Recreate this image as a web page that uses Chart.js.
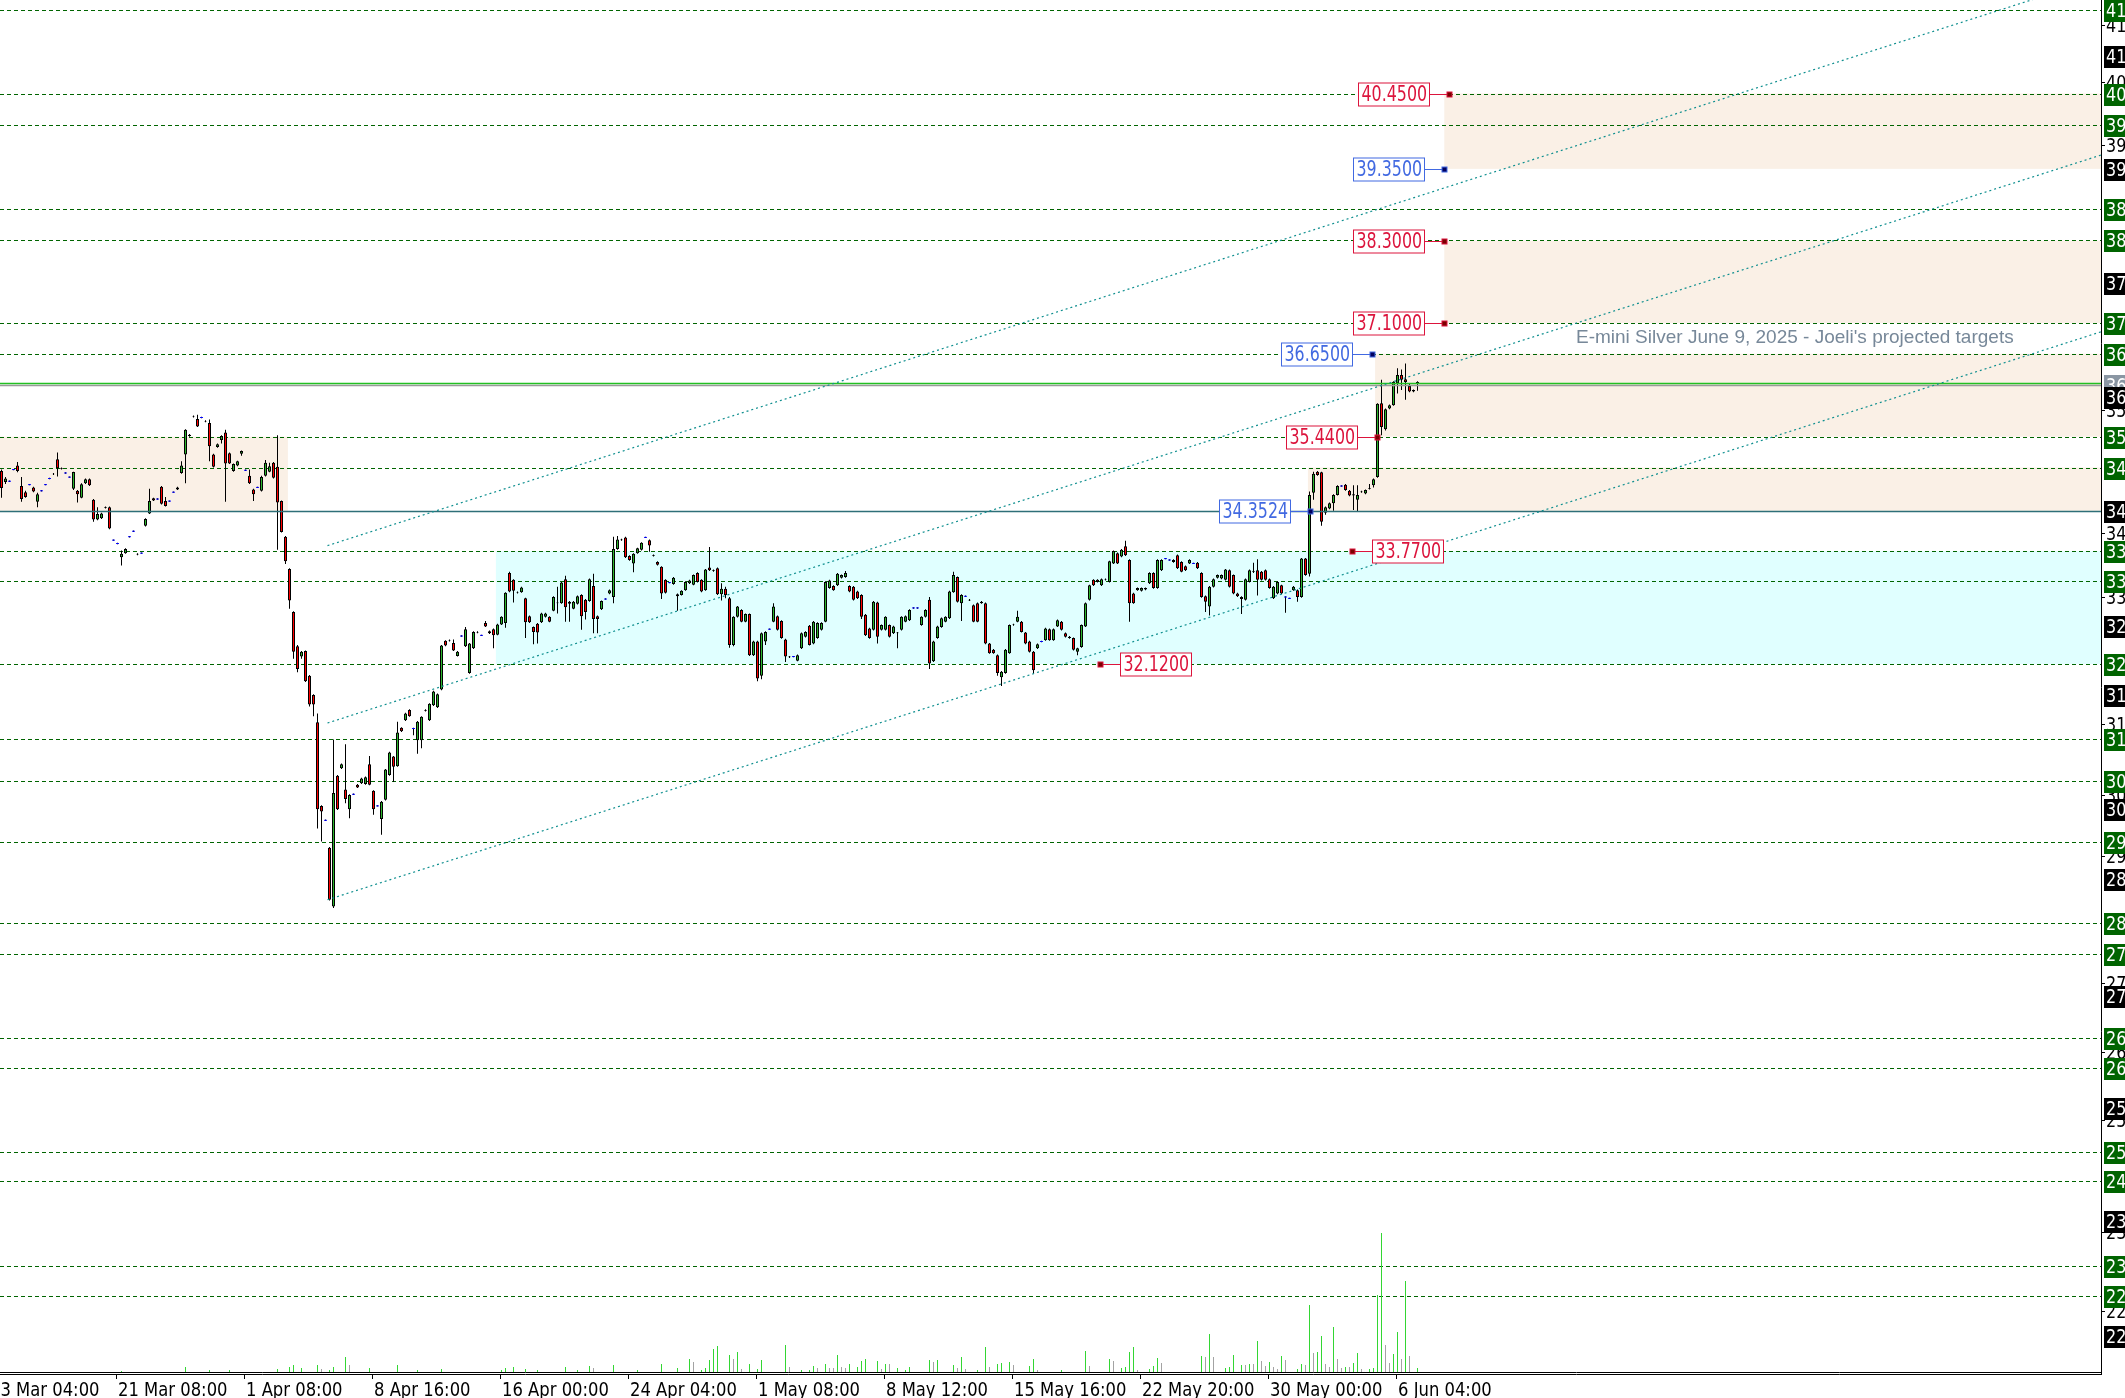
<!DOCTYPE html>
<html>
<head>
<meta charset="utf-8">
<script src="https://cdn.jsdelivr.net/npm/chart.js@4.4.1/dist/chart.umd.min.js"></script>
<style>
  html, body { margin: 0; padding: 0; background: #fff; overflow: hidden; }
  #wrap { width: 2125px; height: 1398px; position: relative; }
</style>
</head>
<body>
<div id="wrap"><canvas id="chart" width="2125" height="1398"></canvas></div>
<script>
// E-mini Silver H4 chart with projected targets, drawn on top of Chart.js floating bars

// candles, one per bar: [open, high, low, close]
const OHLC = [
  [34.94,34.96,34.55,34.69],[34.78,34.85,34.75,34.83],[34.79,34.80,34.78,34.79],[34.96,34.97,34.95,34.96],
  [35.02,35.07,34.92,34.94],[34.72,34.85,34.49,34.53],[34.63,34.65,34.55,34.56],[34.74,34.75,34.73,34.74],
  [34.70,34.71,34.63,34.64],[34.49,34.62,34.41,34.60],[34.65,34.66,34.64,34.65],[34.74,34.75,34.73,34.74],
  [34.83,34.84,34.82,34.83],[34.90,34.91,34.88,34.89],[35.11,35.21,34.86,34.98],[34.98,34.99,34.96,34.97],
  [34.91,34.92,34.90,34.91],[34.85,34.86,34.84,34.85],[34.68,34.93,34.66,34.925],[34.65,34.66,34.48,34.60],
  [34.55,34.76,34.54,34.745],[34.76,34.83,34.75,34.82],[34.82,34.83,34.72,34.73],[34.52,34.53,34.20,34.23],
  [34.23,34.41,34.22,34.31],[34.25,34.33,34.24,34.32],[34.41,34.42,34.39,34.40],[34.41,34.42,34.09,34.10],
  [33.93,33.94,33.92,33.93],[33.88,33.89,33.87,33.88],[33.68,33.78,33.56,33.73],[33.74,33.81,33.73,33.80],
  [33.98,33.99,33.97,33.98],[34.06,34.07,34.05,34.06],[33.73,33.74,33.71,33.72],[33.74,33.75,33.73,33.74],
  [34.14,34.25,34.13,34.24],[34.32,34.68,34.31,34.50],[34.54,34.55,34.50,34.51],[34.53,34.54,34.52,34.53],
  [34.71,34.72,34.45,34.46],[34.50,34.56,34.42,34.43],[34.50,34.51,34.49,34.50],[34.63,34.64,34.62,34.63],
  [34.70,34.71,34.66,34.67],[34.91,35.08,34.90,35.02],[35.18,35.55,34.76,35.54],[35.47,35.48,35.44,35.45],
  [35.74,35.75,35.72,35.73],[35.70,35.76,35.58,35.59],[35.72,35.73,35.71,35.72],[35.67,35.68,35.65,35.66],
  [35.64,35.69,35.08,35.30],[35.18,35.19,34.99,35.00],[35.29,35.34,35.28,35.33],[35.39,35.46,35.34,35.45],
  [35.50,35.54,34.49,35.05],[35.20,35.21,35.04,35.05],[34.94,35.05,34.93,35.04],[35.02,35.09,35.01,35.08],
  [35.19,35.24,35.16,35.23],[34.95,34.96,34.94,34.95],[34.87,34.96,34.75,34.76],[34.67,34.68,34.50,34.60],
  [34.70,34.71,34.69,34.70],[34.65,34.87,34.64,34.85],[34.87,35.10,34.86,35.06],[34.93,35.06,34.92,35.01],
  [35.06,35.07,34.83,34.84],[35.00,35.46,33.79,34.48],[34.50,34.51,34.04,34.05],[33.98,33.99,33.58,33.62],
  [33.51,33.52,32.93,33.05],[32.88,32.89,32.20,32.30],[32.38,32.40,32.00,32.05],[32.23,32.31,32.20,32.30],
  [32.31,32.32,31.86,31.87],[31.95,31.96,31.50,31.53],[31.67,31.68,31.36,31.53],[31.27,31.40,29.72,30.00],
  [30.05,30.06,29.53,29.97],[29.84,29.85,29.83,29.84],[29.44,29.45,28.67,28.68],[28.58,31.02,28.56,30.24],
  [30.49,30.50,29.99,30.00],[30.60,30.67,30.59,30.66],[30.29,30.95,30.09,30.15],[30.00,30.22,29.87,30.21],
  [30.22,30.23,30.21,30.22],[30.36,30.37,30.31,30.32],[30.38,30.46,30.37,30.45],[30.37,30.48,30.36,30.47],
  [30.66,30.78,30.35,30.36],[30.27,30.28,29.92,30.00],[30.05,30.06,30.04,30.05],[29.86,30.12,29.63,30.11],
  [30.14,30.59,30.13,30.58],[30.50,30.84,30.49,30.83],[30.77,30.78,30.40,30.62],[30.63,31.28,30.62,31.12],
  [31.19,31.20,31.13,31.14],[31.30,31.41,31.29,31.40],[31.45,31.46,31.35,31.36],[31.18,31.19,31.08,31.18],
  [31.01,31.29,30.81,31.28],[31.01,31.36,30.89,31.35],[31.45,31.46,31.43,31.44],[31.30,31.55,31.29,31.54],
  [31.52,31.73,31.51,31.72],[31.49,31.69,31.48,31.68],[31.75,32.40,31.74,32.39],[32.46,32.47,32.38,32.39],
  [32.47,32.48,32.45,32.46],[32.43,32.48,32.31,32.32],[32.24,32.31,32.23,32.30],[32.53,32.54,32.52,32.53],
  [32.38,32.66,32.37,32.63],[31.99,32.43,31.98,32.42],[32.35,32.60,32.34,32.59],[32.59,32.60,32.57,32.58],
  [32.54,32.55,32.53,32.54],[32.72,32.75,32.66,32.67],[32.57,32.61,32.56,32.60],[32.63,32.64,32.35,32.54],
  [32.55,32.71,32.54,32.70],[32.70,32.82,32.69,32.81],[32.72,33.17,32.65,33.16],[33.45,33.47,33.17,33.18],
  [33.35,33.36,33.02,33.19],[33.17,33.18,33.15,33.16],[33.17,33.25,33.16,33.24],[33.08,33.09,32.50,32.73],
  [32.82,32.83,32.72,32.73],[32.66,32.67,32.41,32.59],[32.71,32.72,32.42,32.58],[32.73,32.87,32.72,32.86],
  [32.81,32.87,32.80,32.86],[32.81,32.82,32.73,32.74],[32.90,33.11,32.89,33.10],[33.02,33.25,32.86,33.01],
  [33.01,33.32,33.00,33.31],[33.36,33.41,32.74,32.95],[33.03,33.04,32.74,33.00],[32.93,33.04,32.92,33.03],
  [33.00,33.12,32.99,33.11],[33.13,33.14,32.62,32.82],[33.06,33.07,32.77,32.88],[33.04,33.37,33.03,33.36],
  [33.26,33.44,32.57,32.78],[32.82,32.83,32.57,32.78],[32.92,33.05,32.91,33.04],[33.07,33.08,33.06,33.07],
  [33.15,33.21,33.14,33.20],[33.10,33.98,33.01,33.80],[33.80,33.99,33.79,33.94],[33.94,33.95,33.92,33.93],
  [33.97,33.98,33.67,33.68],[33.70,33.71,33.63,33.64],[33.59,33.74,33.46,33.73],[33.74,33.82,33.73,33.81],
  [33.79,33.90,33.78,33.89],[33.97,33.98,33.96,33.97],[33.93,33.94,33.76,33.85],[33.71,33.72,33.69,33.70],
  [33.61,33.62,33.56,33.57],[33.54,33.55,33.07,33.15],[33.35,33.36,33.15,33.16],[33.31,33.32,33.30,33.31],
  [33.29,33.39,33.28,33.38],[33.14,33.15,32.90,33.11],[33.13,33.20,33.12,33.19],[33.20,33.33,33.19,33.32],
  [33.30,33.35,33.29,33.34],[33.28,33.43,33.27,33.42],[33.45,33.46,33.31,33.32],[33.35,33.36,33.17,33.18],
  [33.20,33.51,33.19,33.50],[33.53,33.83,33.48,33.49],[33.49,33.50,33.47,33.48],[33.52,33.53,33.13,33.14],
  [33.14,33.30,33.05,33.22],[33.22,33.25,33.08,33.13],[33.08,33.10,32.36,32.40],[32.40,32.82,32.38,32.81],
  [32.81,32.97,32.80,32.96],[32.91,32.92,32.73,32.74],[32.74,32.86,32.73,32.85],[32.85,32.86,32.24,32.25],
  [32.25,32.46,32.24,32.45],[32.45,32.46,31.87,31.91],[31.95,32.58,31.90,32.57],[32.45,32.60,32.40,32.59],
  [32.63,32.64,32.62,32.63],[32.74,33.01,32.73,32.96],[32.82,32.83,32.61,32.62],[32.75,32.76,32.49,32.50],
  [32.48,32.49,32.15,32.23],[32.23,32.24,32.21,32.22],[32.23,32.24,32.22,32.23],[32.17,32.26,32.16,32.25],
  [32.35,32.58,32.34,32.57],[32.52,32.60,32.51,32.59],[32.68,32.69,32.39,32.40],[32.42,32.75,32.41,32.74],
  [32.50,32.73,32.49,32.72],[32.62,32.73,32.61,32.72],[32.74,33.33,32.73,33.32],[33.23,33.35,33.22,33.34],
  [33.26,33.27,33.19,33.20],[33.27,33.45,33.26,33.44],[33.38,33.43,33.37,33.42],[33.39,33.48,33.38,33.45],
  [33.26,33.27,33.17,33.18],[33.25,33.26,33.05,33.06],[33.18,33.19,33.07,33.08],[33.13,33.14,32.78,32.81],
  [32.84,32.85,32.53,32.54],[32.64,32.65,32.49,32.50],[32.62,33.04,32.61,33.03],[33.02,33.03,32.42,32.52],
  [32.62,32.70,32.61,32.69],[32.62,32.82,32.61,32.81],[32.69,32.70,32.51,32.52],[32.57,32.68,32.56,32.67],
  [32.58,32.59,32.35,32.57],[32.62,32.82,32.61,32.81],[32.74,32.83,32.73,32.82],[32.76,32.92,32.75,32.91],
  [32.94,32.95,32.93,32.94],[32.94,32.95,32.93,32.94],[32.69,32.82,32.68,32.81],[32.81,32.92,32.80,32.91],
  [33.06,33.10,32.05,32.13],[32.16,32.46,32.15,32.45],[32.50,32.68,32.49,32.67],[32.66,32.80,32.65,32.79],
  [32.74,32.82,32.73,32.81],[32.79,33.19,32.78,33.18],[33.17,33.47,33.16,33.42],[33.39,33.40,33.02,33.03],
  [33.01,33.14,32.75,33.13],[33.11,33.12,33.10,33.11],[33.06,33.07,33.04,33.05],[32.98,32.99,32.73,32.74],
  [33.01,33.02,32.73,32.74],[33.01,33.04,33.00,33.03],[33.01,33.02,32.41,32.42],[32.42,32.43,32.27,32.28],
  [32.33,32.34,32.27,32.28],[32.25,32.26,31.95,31.99],[31.93,32.02,31.80,32.01],[31.99,32.34,31.98,32.33],
  [32.28,32.70,32.27,32.69],[32.70,32.71,32.68,32.69],[32.74,32.90,32.73,32.81],[32.74,32.75,32.58,32.59],
  [32.58,32.59,32.41,32.42],[32.45,32.46,32.29,32.30],[32.30,32.31,31.98,32.03],[32.35,32.42,32.34,32.41],
  [32.45,32.46,32.44,32.45],[32.47,32.65,32.46,32.64],[32.63,32.64,32.46,32.47],[32.47,32.64,32.46,32.63],
  [32.67,32.77,32.66,32.76],[32.74,32.75,32.61,32.62],[32.57,32.58,32.51,32.52],[32.52,32.53,32.49,32.50],
  [32.50,32.51,32.32,32.33],[32.30,32.36,32.25,32.35],[32.37,32.70,32.36,32.69],[32.67,33.02,32.66,33.01],
  [33.06,33.28,33.05,33.27],[33.35,33.36,33.26,33.27],[33.35,33.36,33.31,33.32],[33.27,33.37,33.26,33.36],
  [33.35,33.37,33.34,33.36],[33.32,33.63,33.31,33.62],[33.59,33.78,33.58,33.77],[33.74,33.75,33.58,33.59],
  [33.69,33.80,33.68,33.79],[33.84,33.92,33.70,33.71],[33.64,33.65,32.74,33.01],[33.15,33.16,33.00,33.01],
  [33.20,33.24,33.19,33.23],[33.19,33.24,33.18,33.23],[33.21,33.24,33.20,33.23],[33.30,33.46,33.29,33.45],
  [33.45,33.46,33.22,33.23],[33.23,33.65,33.22,33.64],[33.49,33.65,33.48,33.64],[33.66,33.67,33.65,33.66],
  [33.64,33.65,33.63,33.64],[33.61,33.65,33.60,33.64],[33.71,33.72,33.51,33.52],[33.61,33.62,33.46,33.47],
  [33.55,33.56,33.48,33.49],[33.59,33.65,33.58,33.64],[33.59,33.60,33.58,33.59],[33.60,33.61,33.51,33.52],
  [33.45,33.46,33.09,33.10],[33.11,33.12,32.88,33.03],[32.96,33.26,32.83,33.25],[33.25,33.37,33.24,33.36],
  [33.38,33.43,33.37,33.42],[33.37,33.43,33.36,33.42],[33.35,33.51,33.34,33.50],[33.49,33.50,33.24,33.25],
  [33.42,33.43,33.14,33.15],[33.15,33.16,33.10,33.11],[33.10,33.11,32.85,33.07],[33.06,33.37,33.05,33.36],
  [33.32,33.50,33.31,33.49],[33.48,33.60,33.45,33.47],[33.49,33.65,33.12,33.35],[33.47,33.48,33.34,33.35],
  [33.49,33.50,33.34,33.35],[33.36,33.37,33.22,33.23],[33.08,33.26,33.07,33.25],[33.15,33.33,33.14,33.32],
  [33.27,33.28,33.14,33.15],[33.10,33.11,32.87,33.10],[33.08,33.09,33.07,33.08],[33.20,33.26,33.19,33.25],
  [33.20,33.21,33.03,33.10],[33.10,33.67,33.09,33.66],[33.66,33.67,33.41,33.42],[33.44,34.64,33.40,34.59],
  [34.62,34.93,34.52,34.90],[34.93,34.94,34.87,34.88],[34.92,34.93,34.14,34.20],[34.33,34.42,34.30,34.41],
  [34.39,34.48,34.38,34.47],[34.47,34.60,34.36,34.59],[34.59,34.73,34.58,34.72],[34.72,34.73,34.71,34.72],
  [34.74,34.75,34.65,34.66],[34.65,34.66,34.57,34.58],[34.60,34.73,34.37,34.58],[34.52,34.73,34.35,34.59],
  [34.63,34.65,34.62,34.64],[34.61,34.67,34.60,34.66],[34.68,34.75,34.67,34.69],[34.73,34.83,34.70,34.82],
  [34.85,35.93,34.84,35.92],[35.93,36.27,35.46,35.58],[35.55,35.85,35.53,35.84],[35.85,35.91,35.84,35.90],
  [35.90,36.25,35.89,36.24],[36.22,36.44,36.07,36.34],[36.34,36.42,36.12,36.27],[36.28,36.51,35.98,36.24],
  [36.18,36.22,36.09,36.10],[36.10,36.13,36.09,36.12],[36.24,36.25,36.11,36.22]
];

// tick volume, [bar, volume]; bars not listed had next to no volume
const VOLUME = [
  [30,1],[46,5],[52,2],[57,2],[69,3],[72,5],[73,7],[75,4],[79,7],[80,3],[82,2],[83,5],[86,15],[87,7],
  [92,4],[99,7],[104,2],[110,3],[125,2],[126,4],[128,5],[131,3],[134,2],[141,5],[144,2],[147,6],[148,4],
  [153,7],[159,2],[165,8],[169,4],[172,13],[173,10],[175,2],[176,4],[177,12],[178,23],[179,26],[182,17],
  [183,13],[184,20],[185,3],[187,8],[189,3],[190,12],[196,27],[197,5],[200,2],[202,2],[203,6],[204,4],
  [206,8],[207,4],[208,4],[209,17],[210,5],[211,4],[212,8],[214,5],[215,11],[216,13],[219,11],[220,3],
  [221,8],[222,8],[224,4],[226,2],[227,5],[232,12],[233,10],[234,12],[238,7],[239,4],[240,15],[241,3],
  [244,2],[246,25],[247,5],[249,8],[250,9],[252,10],[253,7],[257,6],[258,13],[259,2],[265,2],[271,21],
  [272,6],[277,13],[278,11],[280,4],[281,5],[282,20],[283,25],[284,2],[287,3],[288,6],[289,14],[290,9],
  [300,16],[301,15],[302,38],[303,15],[306,4],[307,5],[308,17],[310,7],[311,7],[312,8],[313,8],[314,31],
  [315,11],[316,6],[317,10],[318,5],[319,3],[320,16],[321,12],[324,3],[325,8],[326,7],[327,67],[328,19],
  [329,20],[330,36],[331,8],[332,5],[333,45],[334,13],[335,4],[336,5],[337,5],[338,9],[339,19],[340,3],
  [342,3],[343,4],[344,77],[345,139],[346,27],[347,9],[348,18],[349,40],[350,13],[351,91],[352,16],[354,4]
];

// time axis
const X_TICK_BARS = [-3, 29, 61, 93, 125, 157, 189, 221, 253, 285, 317, 349];
const X_TICK_LABELS = ['13 Mar 04:00', '21 Mar 08:00', '1 Apr 08:00', '8 Apr 16:00', '16 Apr 00:00',
  '24 Apr 04:00', '1 May 08:00', '8 May 12:00', '15 May 16:00', '22 May 20:00', '30 May 00:00', '6 Jun 04:00'];

// horizontal level lines (green labels on the price axis)
const LEVELS = [41.67, 40.45, 39.99, 38.77, 38.31, 37.10, 36.65, 35.44, 34.99, 33.77, 33.33, 32.12,
  31.02, 30.42, 29.53, 28.34, 27.89, 26.66, 26.23, 25.00, 24.57, 23.34, 22.89];
// other price-axis labels
const AXIS_BLACK = [41.00, 39.35, 37.68, 36.02, 34.3524, 32.68, 31.67, 30.01, 28.98, 27.27, 25.64, 23.99, 22.31];
const AXIS_TICKS = [41.45, 40.62, 39.70, 35.83, 34.04, 33.10, 31.25, 30.21, 29.32, 27.46, 26.46, 25.46, 23.83, 22.67];

const ENTRY_LINE = 34.3524;
const BID = 36.225;
const ASK = 36.19;

// zones: [from bar, to bar], price range
const ZONE_FROM = [-2, 123.6, 326.6, 343.4, 360.7, 360.7];
const ZONE_TO = [71.6, 530, 530, 530, 530, 530];
const ZONE_LOW = [34.3524, 32.12, 34.3524, 35.44, 37.10, 39.35];
const ZONE_HIGH = [35.44, 33.77, 34.99, 36.65, 38.30, 40.45];
const ZONE_KIND = ['target', 'range', 'target', 'target', 'target', 'target'];

// rising channel, three parallel lines
const CHANNEL_BAR = 81.5;
const CHANNEL_PRICES = [33.85, 31.26, 28.68];
const CHANNEL_SLOPE = 0.0187; // price per bar

// price tags
const TAG_PRICES = [40.45, 39.35, 38.30, 37.10, 36.65, 35.44, 34.3524, 33.77, 32.12];
const TAG_BARS = [361.75, 360.7, 360.7, 360.7, 342.55, 343.9, 327, 337.6, 274.6];
const TAG_TYPES = ['target', 'entry', 'target', 'target', 'entry', 'target', 'entry', 'target', 'target'];
const TAG_SIDES = ['left', 'left', 'left', 'left', 'left', 'left', 'left', 'right', 'right'];

const TITLE = "E-mini Silver June 9, 2025 - Joeli's projected targets";

const UP = '#2bb52b', DOWN = '#ff0000';

const bodies = [], bodyColors = [], dojis = [], wicks = [];
OHLC.forEach(([o, h, l, c], i) => {
  wicks.push({ x: i, y: [l, h] });
  if (o === c) {
    dojis.push({ x: i, y: [o - 0.007, o + 0.007] });
  } else {
    bodies.push({ x: i, y: [o, c] });
    bodyColors.push(c > o ? UP : DOWN);
  }
});

const volData = VOLUME.map(([i, v]) => ({ x: i, y: v }));
const volColors = VOLUME.map(([i, v], k) => {
  const prev = k > 0 && VOLUME[k - 1][0] === i - 1 ? VOLUME[k - 1][1] : 0;
  return v > prev ? '#33d633' : '#a3a3a3';
});

function condText(ctx, s, x, y, sx) {
  ctx.save();
  ctx.translate(x, y);
  ctx.scale(sx, 1);
  ctx.fillText(s, 0, 0);
  ctx.restore();
}

const backdrop = {
  id: 'backdrop',
  beforeDatasetsDraw(chart) {
    const { ctx, chartArea: a, scales: { x, y } } = chart;
    ctx.save();
    ctx.beginPath();
    ctx.rect(a.left, a.top, a.right - a.left, a.bottom - a.top);
    ctx.clip();
    ZONE_FROM.forEach((f, k) => {
      const x0 = x.getPixelForValue(f), x1 = x.getPixelForValue(ZONE_TO[k]);
      const y0 = y.getPixelForValue(ZONE_HIGH[k]), y1 = y.getPixelForValue(ZONE_LOW[k]);
      ctx.fillStyle = ZONE_KIND[k] === 'range' ? '#e0ffff' : '#faf0e6';
      ctx.fillRect(x0, y0, x1 - x0, y1 - y0);
    });
    ctx.strokeStyle = '#006400';
    ctx.lineWidth = 1;
    ctx.setLineDash([4, 3]);
    LEVELS.forEach(p => {
      const yy = Math.round(y.getPixelForValue(p)) + 0.5;
      ctx.beginPath();
      ctx.moveTo(a.left, yy);
      ctx.lineTo(a.right, yy);
      ctx.stroke();
    });
    ctx.restore();
  }
};

const overlay = {
  id: 'overlay',
  afterDatasetsDraw(chart) {
    const { ctx, chartArea: a, scales: { x, y } } = chart;
    const X = v => x.getPixelForValue(v), Y = v => y.getPixelForValue(v);

    ctx.save();
    ctx.beginPath();
    ctx.rect(a.left, a.top, a.right - a.left, a.bottom - a.top);
    ctx.clip();

    // solid horizontal lines
    const hline = (p, col, w) => {
      const yy = Math.round(Y(p)) + 0.5;
      ctx.strokeStyle = col; ctx.lineWidth = w;
      ctx.beginPath(); ctx.moveTo(a.left, yy); ctx.lineTo(a.right, yy); ctx.stroke();
    };
    hline(ENTRY_LINE, '#2e6f78', 1.5);
    hline(ASK, '#9a9a9a', 1.5);
    hline(BID, '#22c022', 1.5);

    // channel
    ctx.strokeStyle = '#0f8f8f';
    ctx.lineWidth = 1.2;
    ctx.setLineDash([2, 3]);
    const endBar = 560;
    CHANNEL_PRICES.forEach(p => {
      ctx.beginPath();
      ctx.moveTo(X(CHANNEL_BAR), Y(p));
      ctx.lineTo(X(endBar), Y(p + CHANNEL_SLOPE * (endBar - CHANNEL_BAR)));
      ctx.stroke();
    });
    ctx.setLineDash([]);

    // title
    ctx.fillStyle = '#778899';
    ctx.font = '19px "Liberation Sans", Arial, sans-serif';
    ctx.textBaseline = 'middle';
    ctx.fillText(TITLE, 1576, 338, 438);

    // price tags
    TAG_PRICES.forEach((p, k) => {
      const target = TAG_TYPES[k] === 'target';
      const col = target ? '#dc143c' : '#4169e1';
      const mk = target ? '#7a0000' : '#000060';
      const mx = Math.round(X(TAG_BARS[k])) + 0.5;
      const yy = Math.round(Y(p)) + 0.5;
      const w = 71, h = 23;
      const bx = TAG_SIDES[k] === 'left' ? mx - 20 - w : mx + 20;
      ctx.strokeStyle = col; ctx.lineWidth = 1;
      ctx.beginPath();
      if (TAG_SIDES[k] === 'left') { ctx.moveTo(bx + w, yy); ctx.lineTo(mx, yy); }
      else { ctx.moveTo(mx, yy); ctx.lineTo(bx, yy); }
      ctx.stroke();
      ctx.fillStyle = '#fff';
      ctx.fillRect(bx, yy - h / 2, w, h);
      ctx.strokeRect(bx, yy - h / 2, w, h);
      ctx.fillStyle = mk;
      ctx.fillRect(mx - 2.5, yy - 2.5, 5, 5);
      ctx.strokeRect(mx - 2.5, yy - 2.5, 5, 5);
      ctx.fillStyle = col;
      ctx.font = '21px "DejaVu Sans", sans-serif';
      ctx.textBaseline = 'middle';
      condText(ctx, p.toFixed(4), bx + 3, yy + 1, 0.755);
    });
    ctx.restore();

    // axes
    ctx.save();
    ctx.strokeStyle = '#000';
    ctx.lineWidth = 1;
    ctx.beginPath();
    ctx.moveTo(a.right + 0.5, 0); ctx.lineTo(a.right + 0.5, a.bottom + 3);
    ctx.moveTo(0, a.bottom + 0.5); ctx.lineTo(a.right + 1, a.bottom + 0.5);
    ctx.moveTo(0, a.bottom + 2.5); ctx.lineTo(a.right + 1, a.bottom + 2.5);
    ctx.stroke();

    // time labels
    ctx.font = '20px "DejaVu Sans", sans-serif';
    ctx.textBaseline = 'alphabetic';
    ctx.fillStyle = '#000';
    X_TICK_BARS.forEach((b, k) => {
      const tx = Math.round(X(b) - 1.5) + 0.5;
      ctx.beginPath(); ctx.moveTo(tx, a.bottom + 2); ctx.lineTo(tx, a.bottom + 7); ctx.stroke();
      condText(ctx, X_TICK_LABELS[k], tx + 1.5, 1396, 0.82);
    });

    // price axis
    const lx = a.right + 3;
    ctx.font = '20px "DejaVu Sans", sans-serif';
    ctx.textBaseline = 'middle';
    AXIS_TICKS.forEach(p => {
      const yy = Math.round(Y(p)) + 0.5;
      ctx.beginPath(); ctx.moveTo(a.right, yy); ctx.lineTo(a.right + 4, yy); ctx.stroke();
      ctx.fillStyle = '#000';
      condText(ctx, p.toFixed(2), lx + 2, yy + 1, 0.8);
    });
    const box = (p, bg, txt) => {
      const yy = Math.round(Y(p));
      ctx.fillStyle = bg;
      ctx.fillRect(lx, yy - 10, 40, 22);
      ctx.fillStyle = '#fff';
      condText(ctx, txt, lx + 2, yy + 1.5, 0.8);
    };
    LEVELS.forEach(p => box(p, '#006400', p.toFixed(4)));
    box(ASK, '#8a96a3', ASK.toFixed(4));
    AXIS_BLACK.forEach(p => box(p, '#000000', p.toFixed(4)));
    ctx.restore();
  }
};

new Chart(document.getElementById('chart'), {
  type: 'bar',
  data: {
    datasets: [
      { data: bodies, backgroundColor: bodyColors, borderColor: '#000', borderWidth: 1,
        borderSkipped: false, barThickness: 3, grouped: false, inflateAmount: 0 },
      { data: dojis, backgroundColor: '#0000ff', borderWidth: 0, barThickness: 3,
        grouped: false, inflateAmount: 0 },
      { data: wicks, backgroundColor: '#000', borderWidth: 0, barThickness: 1,
        grouped: false, inflateAmount: 0 },
      { data: volData, yAxisID: 'yv', backgroundColor: volColors, borderWidth: 0,
        barThickness: 1, grouped: false, inflateAmount: 0 }
    ]
  },
  options: {
    responsive: false,
    animation: false,
    devicePixelRatio: 1,
    events: [],
    layout: { padding: { left: 0, top: 0, right: 24, bottom: 26 } },
    scales: {
      x: { type: 'linear', min: -0.375, max: 524.875, display: false, offset: false },
      y: { type: 'linear', min: 21.786, max: 41.815, display: false },
      yv: { type: 'linear', min: 0, max: 1372, display: false }
    },
    plugins: { legend: { display: false }, tooltip: { enabled: false }, title: { display: false } }
  },
  plugins: [backdrop, overlay]
});
</script>
</body>
</html>
